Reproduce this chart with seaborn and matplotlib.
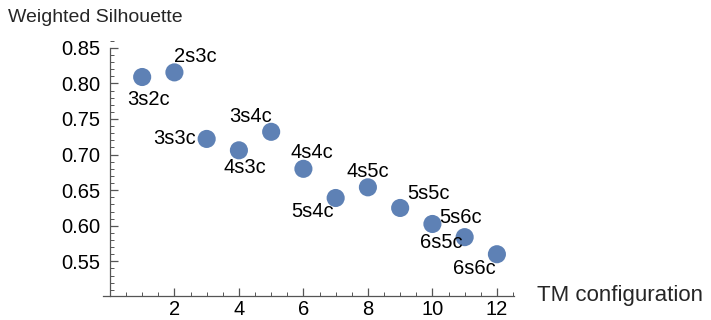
import numpy as np
import pandas as pd
import seaborn as sns
import matplotlib.pyplot as plt
from matplotlib.ticker import MultipleLocator

# values
config_idx = [1, 2, 3, 4, 5, 6, 7, 8, 9, 10, 11, 12]
silhouette = [0.809, 0.8155, 0.722, 0.706, 0.732, 0.680, 0.639, 0.654, 0.625, 0.6025, 0.584, 0.560]
config_names = ['3s2c', '2s3c', '3s3c', '4s3c', '3s4c', '4s4c',
                '5s4c', '4s5c', '5s5c', '6s5c', '5s6c', '6s6c']
# label offsets in pixels (callout placement)
label_dx = [6, 21, -32, 6, -21, 8, -23, 0, 28, 9, -4, -23]
label_dy = [-22, 16, 0, -17, 15, 16, -14, 16, 14, -19, 20, -14]

df = pd.DataFrame({'TM configuration': config_idx,
                   'Weighted Silhouette': silhouette,
                   'name': config_names})

sns.set_style('white')
plt.rcParams['font.family'] = ['Liberation Sans', 'DejaVu Sans']
fs = 14.5

axis_col = '#555555'
fig = plt.figure(figsize=(7.11, 3.2), dpi=100)
ax = fig.add_axes([102.5 / 711, 24 / 320, 411.5 / 711, 256 / 320])

sns.scatterplot(data=df, x='TM configuration', y='Weighted Silhouette', ax=ax,
                color='#5E81B5', s=170, edgecolor='none', zorder=3, clip_on=False)

for i in range(len(df)):
    ax.annotate(config_names[i], (config_idx[i], silhouette[i]),
                xytext=(label_dx[i], label_dy[i]), textcoords='offset pixels',
                ha='center', va='center', fontsize=fs, color='black', zorder=4)

ax.set_xlim(-0.23, 12.53)
ax.set_ylim(0.5013, 0.861)

for side in ['top', 'right']:
    ax.spines[side].set_visible(False)
ax.spines['left'].set_position(('data', 0))
ax.spines['left'].set_bounds(0.5013, 0.85)
ax.spines['bottom'].set_bounds(-0.23, 12.53)
for side in ['left', 'bottom']:
    ax.spines[side].set_color(axis_col)
    ax.spines[side].set_linewidth(0.9)

ax.set_xticks([2, 4, 6, 8, 10, 12])
ax.set_yticks([0.55, 0.60, 0.65, 0.70, 0.75, 0.80, 0.85])
ax.yaxis.set_major_formatter(plt.FuncFormatter(lambda v, p: f'{v:.2f}'))
ax.xaxis.set_minor_locator(MultipleLocator(0.5))
ax.yaxis.set_minor_locator(MultipleLocator(0.01))
ax.tick_params(which='major', direction='in', length=6, width=0.9, color=axis_col,
               labelsize=fs, labelcolor='black', bottom=True, left=True)
ax.tick_params(which='minor', direction='in', length=3, width=0.7, color=axis_col,
               bottom=True, left=True)
ax.tick_params(axis='x', which='major', pad=3)
ax.tick_params(axis='y', which='major', pad=7)

ax.set_xlabel('')
ax.set_ylabel('')
fig.text(8 / 711, 1 - 18 / 320, 'Weighted Silhouette', fontsize=14, va='center', ha='left')
fig.text(537 / 711, 1 - 296 / 320, 'TM configuration', fontsize=16, va='center', ha='left')

fig.savefig('out.png', dpi=100)
